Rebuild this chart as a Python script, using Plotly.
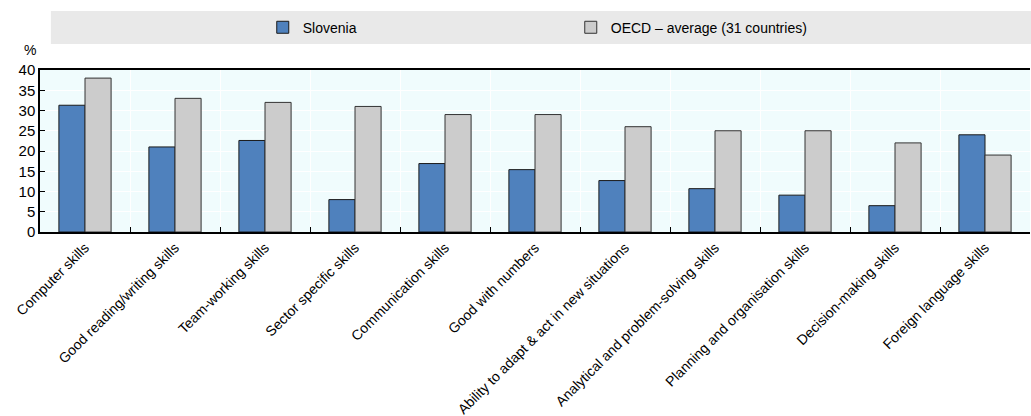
import plotly.graph_objects as go

categories = [
    "Computer skills", "Good reading/writing skills", "Team-working skills",
    "Sector specific skills", "Communication skills", "Good with numbers",
    "Ability to adapt & act in new situations", "Analytical and problem-solving skills",
    "Planning and organisation skills", "Decision-making skills", "Foreign language skills",
]
slovenia = [31.3, 21.0, 22.6, 8.0, 16.9, 15.4, 12.7, 10.7, 9.1, 6.5, 24.0]
oecd = [38, 33, 32, 31, 29, 29, 26, 25, 25, 22, 19]
series_names = ["Slovenia", "OECD \u2013 average (31 countries)"]
y_ticks = [0, 5, 10, 15, 20, 25, 30, 35, 40]

FONT = "Liberation Sans, Arial, sans-serif"

fig = go.Figure()
fig.add_trace(go.Bar(x=categories, y=slovenia, name=series_names[0],
                     marker=dict(color="#4f81bd", line=dict(color="#1a1a1a", width=1))))
fig.add_trace(go.Bar(x=categories, y=oecd, name=series_names[1],
                     marker=dict(color="#cccccc", line=dict(color="#333333", width=1))))

fig.update_layout(
    width=1031, height=416,
    margin=dict(l=40, r=1, t=70, b=184, autoexpand=False),
    paper_bgcolor="white",
    plot_bgcolor="#f0fcfd",
    barmode="group", bargap=0.42, bargroupgap=0,
    font=dict(family=FONT, size=14, color="black"),
    showlegend=True,
    legend=dict(orientation="h", x=0.225, xanchor="left", y=1.36, yanchor="top",
                bgcolor="rgba(0,0,0,0)", font=dict(size=14, family=FONT),
                entrywidth=263, entrywidthmode="pixels", itemclick=False),
    shapes=[dict(type="rect", xref="paper", yref="paper", x0=0.011, x1=1.01,
                 y0=1.16, y1=1.364, fillcolor="#e9e9e9", line=dict(width=0), layer="below")],
    annotations=[dict(text="%", xref="paper", yref="paper", x=-0.01, y=1.06,
                      xanchor="center", yanchor="bottom", showarrow=False,
                      font=dict(size=14, family=FONT))],
)
fig.update_xaxes(
    automargin=False,
    tickangle=-45, tickson="boundaries", ticks="inside", ticklen=5, tickcolor="black",
    showgrid=True, gridcolor="white", gridwidth=1,
    showline=True, linecolor="black", linewidth=2, mirror=True,
    tickfont=dict(size=14, family=FONT),
)
fig.update_yaxes(
    automargin=False,
    range=[0, 40], tickvals=y_ticks, ticks="inside", ticklen=5, tickcolor="black",
    showgrid=True, gridcolor="white", gridwidth=1, zeroline=False,
    showline=True, linecolor="black", linewidth=1.5,
    tickfont=dict(size=15, family=FONT),
)

fig.write_html("out.html", config={"displayModeBar": False},
               post_script="document.body.style.margin='0';document.body.style.overflow='hidden';")
